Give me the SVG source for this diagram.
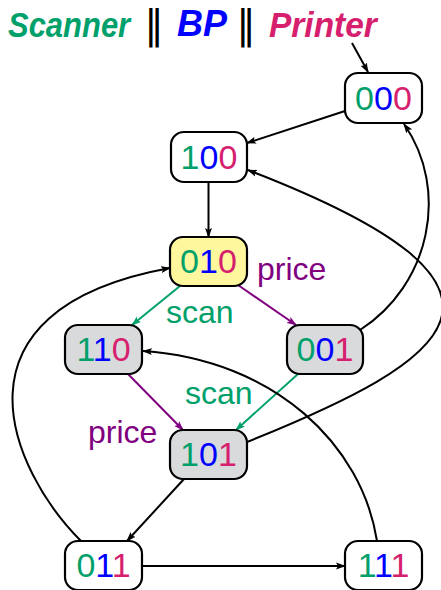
<svg xmlns="http://www.w3.org/2000/svg" width="441" height="590" viewBox="0 0 441 590">
<defs>
<style>
.node rect{stroke:#000;stroke-width:2.2;}
.w{fill:#fff}.y{fill:#fff79e}.g{fill:#d9dadc}
.lbl{font-family:"Liberation Sans",Arial,sans-serif;font-size:34px;text-anchor:middle}
.c0{fill:#00a06a}.c1{fill:#0000ff}.c2{fill:#d6206e}
.e{fill:none;stroke-width:2}
.eb{stroke:#000}.eg{stroke:#00a06a}.ep{stroke:#800080}
.t{font-family:"Liberation Sans",Arial,sans-serif;font-size:32px}
.title{font-family:"Liberation Sans",Arial,sans-serif;font-size:36px;font-weight:bold;font-style:italic}
.par{font-family:"DejaVu Sans",sans-serif;font-size:39px;text-anchor:middle;fill:#000}
</style>
<marker id="ab" viewBox="0 0 10 8" refX="9" refY="4" markerWidth="10" markerHeight="8" orient="auto" markerUnits="userSpaceOnUse"><path d="M0,0.5 L10,4 L0,7.5 L2,4 z" fill="#000"/></marker>
<marker id="ag" viewBox="0 0 10 8" refX="9" refY="4" markerWidth="10" markerHeight="8" orient="auto" markerUnits="userSpaceOnUse"><path d="M0,0.5 L10,4 L0,7.5 L2,4 z" fill="#00a06a"/></marker>
<marker id="ap" viewBox="0 0 10 8" refX="9" refY="4" markerWidth="10" markerHeight="8" orient="auto" markerUnits="userSpaceOnUse"><path d="M0,0.5 L10,4 L0,7.5 L2,4 z" fill="#800080"/></marker>
</defs>
<rect width="441" height="590" fill="#fff"/>
<g id="title">
<text class="title" transform="translate(8,37) scale(0.86,1)" x="0" y="0" fill="#00a06a">Scanner</text>
<text class="par" x="154" y="38">‖</text>
<text class="title" x="177" y="36" fill="#0000ff">BP</text>
<text class="par" x="246" y="38">‖</text>
<text class="title" transform="translate(269,37) scale(0.93,1)" x="0" y="0" fill="#d6206e">Printer</text>
</g>
<g id="edges">
<path class="e eb" d="M352,43 L368,72" marker-end="url(#ab)"/>
<path class="e eb" d="M345,111 L247,143" marker-end="url(#ab)"/>
<path class="e eb" d="M208.5,182 L208.5,237" marker-end="url(#ab)"/>
<path class="e eg" d="M180,286 L132,325" marker-end="url(#ag)"/>
<path class="e ep" d="M238,285 L296,325" marker-end="url(#ap)"/>
<path class="e ep" d="M128,374 L183,430" marker-end="url(#ap)"/>
<path class="e eg" d="M298,374 L236,430" marker-end="url(#ag)"/>
<path class="e eb" d="M360,330 C430,285 450,190 404,124" marker-end="url(#ab)"/>
<path class="e eb" d="M247,442 C450,360 560,290 248,170" marker-end="url(#ab)"/>
<path class="e eb" d="M377,541 C362,445 275,360 143,351" marker-end="url(#ab)"/>
<path class="e eb" d="M81,541 C10,470 -60,310 170,268" marker-end="url(#ab)"/>
<path class="e eb" d="M184,479 L127,541" marker-end="url(#ab)"/>
<path class="e eb" d="M142,566 L345,566" marker-end="url(#ab)"/>
</g>
<g id="labels">
<text class="t" x="257" y="280" fill="#800080">price</text>
<text class="t" x="166" y="323" fill="#00a06a">scan</text>
<text class="t" x="185" y="404" fill="#00a06a">scan</text>
<text class="t" x="88" y="443" fill="#800080">price</text>
</g>
<g id="n000" class="node"><rect class="w" x="345" y="73" width="77" height="50" rx="13"/><text class="lbl" x="383.5" y="110"><tspan class="c0">0</tspan><tspan class="c1">0</tspan><tspan class="c2">0</tspan></text></g>
<g id="n100" class="node"><rect class="w" x="171" y="132" width="76" height="50" rx="13"/><text class="lbl" x="209" y="169"><tspan class="c0">1</tspan><tspan class="c1">0</tspan><tspan class="c2">0</tspan></text></g>
<g id="n010" class="node"><rect class="y" x="170" y="237" width="77" height="49" rx="13"/><text class="lbl" x="208.5" y="273"><tspan class="c0">0</tspan><tspan class="c1">1</tspan><tspan class="c2">0</tspan></text></g>
<g id="n110" class="node"><rect class="g" x="65" y="325" width="77" height="49" rx="13"/><text class="lbl" x="103.5" y="361"><tspan class="c0">1</tspan><tspan class="c1">1</tspan><tspan class="c2">0</tspan></text></g>
<g id="n001" class="node"><rect class="g" x="287" y="325" width="76" height="49" rx="13"/><text class="lbl" x="325" y="361"><tspan class="c0">0</tspan><tspan class="c1">0</tspan><tspan class="c2">1</tspan></text></g>
<g id="n101" class="node"><rect class="g" x="170" y="430" width="77" height="49" rx="13"/><text class="lbl" x="208.5" y="466"><tspan class="c0">1</tspan><tspan class="c1">0</tspan><tspan class="c2">1</tspan></text></g>
<g id="n011" class="node"><rect class="w" x="65" y="541" width="77" height="49" rx="13"/><text class="lbl" x="103.5" y="577"><tspan class="c0">0</tspan><tspan class="c1">1</tspan><tspan class="c2">1</tspan></text></g>
<g id="n111" class="node"><rect class="w" x="345" y="541" width="77" height="49" rx="13"/><text class="lbl" x="383.5" y="577"><tspan class="c0">1</tspan><tspan class="c1">1</tspan><tspan class="c2">1</tspan></text></g>
</svg>
